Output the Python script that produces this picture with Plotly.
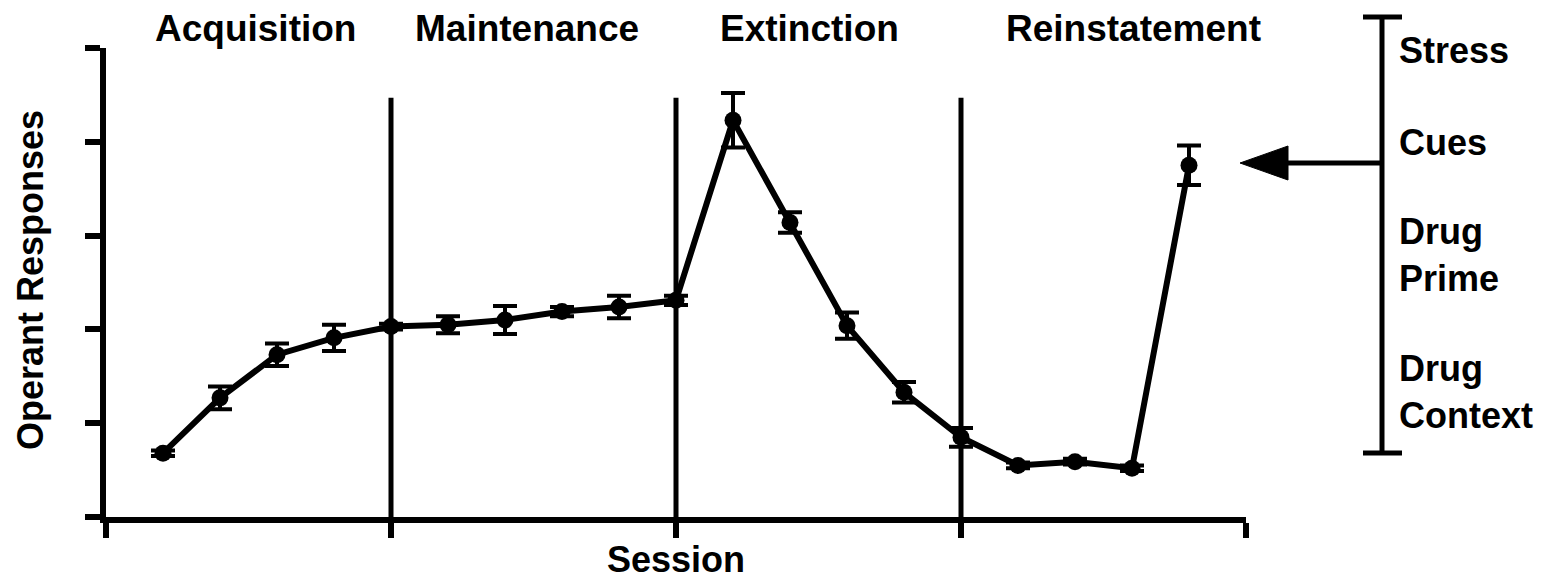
import plotly.graph_objects as go

# ---- data ----
sessions = list(range(1, 20))
responses = [0.68, 1.27, 1.73, 1.91, 2.03, 2.05, 2.10, 2.19, 2.24, 2.31,
             4.23, 3.14, 2.04, 1.33, 0.85, 0.55, 0.59, 0.52, 3.75]
sem = [0.03, 0.12, 0.12, 0.14, 0.03, 0.09, 0.15, 0.05, 0.12, 0.05,
       0.29, 0.11, 0.14, 0.11, 0.10, 0.03, 0.03, 0.03, 0.21]
phase_bounds = [5, 10, 15]
phase_names = ["Acquisition", "Maintenance", "Extinction", "Reinstatement"]
phase_label_x = [2.63, 7.39, 12.35, 18.02]
triggers = ["Stress", "Cues", "Drug<br>Prime", "Drug<br>Context"]
trigger_y_px = [50, 142, 255, 392]

W, H = 1553, 582
L, R, T, B = 106, 1246, 48, 517
FONT = "Liberation Sans, Arial, sans-serif"
FS = 37

def px_x(p):
    return (p - L) / (R - L)

def px_y(p):
    return (B - p) / (B - T)

fig = go.Figure()
fig.add_trace(go.Scatter(
    x=sessions, y=responses, mode="lines+markers",
    line=dict(color="black", width=6),
    marker=dict(color="black", size=17),
    error_y=dict(type="data", array=sem, visible=True, color="black",
                 thickness=4, width=12),
    showlegend=False, cliponaxis=False,
))

shapes = []
for b in phase_bounds:
    shapes.append(dict(type="line", xref="x", yref="y", x0=b, x1=b, y0=0, y1=4.47,
                       line=dict(color="black", width=5), layer="below"))

# right-hand bracket
bx = px_x(1382)
shapes.append(dict(type="line", xref="paper", yref="paper", x0=bx, x1=bx,
                   y0=px_y(453), y1=px_y(17), line=dict(color="black", width=5)))
for yy in (17, 453):
    shapes.append(dict(type="line", xref="paper", yref="paper", x0=px_x(1363), x1=px_x(1402),
                       y0=px_y(yy), y1=px_y(yy), line=dict(color="black", width=5)))
# arrow
ay = px_y(163)
shapes.append(dict(type="line", xref="paper", yref="paper", x0=px_x(1284), x1=bx,
                   y0=ay, y1=ay, line=dict(color="black", width=5)))
shapes.append(dict(type="path", xref="paper", yref="paper",
                   path=f"M {px_x(1240)} {ay} L {px_x(1288)} {px_y(146)} L {px_x(1288)} {px_y(180)} Z",
                   fillcolor="black", line=dict(color="black", width=1)))

annotations = []
for name, xv in zip(phase_names, phase_label_x):
    annotations.append(dict(text=f"<b>{name}</b>", x=xv, xref="x", y=px_y(28), yref="paper",
                            showarrow=False, xanchor="center", yanchor="middle",
                            font=dict(family=FONT, size=FS, color="black")))
for t, yy in zip(triggers, trigger_y_px):
    annotations.append(dict(text=f"<b>{t}</b>", x=px_x(1397), xref="paper", y=px_y(yy), yref="paper",
                            showarrow=False, xanchor="left", yanchor="middle", align="left",
                            font=dict(family=FONT, size=FS - 1, color="black")))
annotations.append(dict(text="<b>Session</b>", x=px_x(676), xref="paper", y=px_y(559), yref="paper",
                        showarrow=False, xanchor="center", yanchor="middle",
                        font=dict(family=FONT, size=FS - 1, color="black")))
annotations.append(dict(text="<b>Operant Responses</b>", x=px_x(30), xref="paper", y=px_y(280), yref="paper",
                        showarrow=False, xanchor="center", yanchor="middle", textangle=-90,
                        font=dict(family=FONT, size=FS - 1, color="black")))

fig.update_layout(
    width=W, height=H,
    margin=dict(l=L, r=W - R, t=T, b=H - B, pad=0),
    paper_bgcolor="white", plot_bgcolor="white",
    shapes=shapes, annotations=annotations,
    xaxis=dict(range=[0, 20], tickvals=[0, 5, 10, 15, 20], showticklabels=False,
               ticks="outside", ticklen=15, tickwidth=6, tickcolor="black",
               showline=True, linewidth=6, linecolor="black",
               showgrid=False, zeroline=False, fixedrange=True),
    yaxis=dict(range=[0, 5], tickvals=[0, 1, 2, 3, 4, 5], showticklabels=False,
               ticks="outside", ticklen=15, tickwidth=6, tickcolor="black",
               showline=True, linewidth=6, linecolor="black",
               showgrid=False, zeroline=False, fixedrange=True),
)

fig.write_html("out.html", config={"displayModeBar": False})
